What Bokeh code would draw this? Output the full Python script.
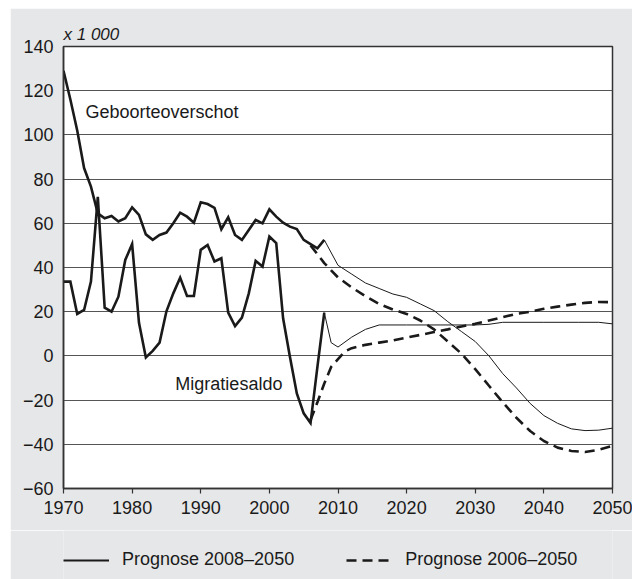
from bokeh.plotting import figure
from bokeh.models import (Range1d, FixedTicker, Label, Legend, LegendItem, Spacer)
from bokeh.layouts import column, row
from bokeh.embed import file_html
from bokeh.resources import INLINE

# ---------------- data (x 1 000) ----------------
hist_years = list(range(1970, 2009))
hist_geboorte = [129, 116, 102, 85, 76.6, 64.5, 62.3, 63.3, 60.8, 62.3,
                 67.2, 63.8, 55, 52.5, 54.7, 55.8, 60, 64.8, 63, 60.3,
                 69.5, 68.7, 67, 57.3, 62.7, 54.7, 52.5, 57, 61.5, 60,
                 66.3, 63, 60.3, 58.5, 57.4, 52.5, 50.6, 48.7, 52.5]
hist_migratie = [33.6, 33.6, 19, 20.8, 33.6, 72, 21.8, 20, 26.8, 43.4,
                 50.6, 15, -0.7, 2.3, 6, 20.2, 28.3, 35.4, 27.1, 27.1,
                 48, 50.2, 42.7, 44.2, 19.6, 13.5, 17.3, 28.3, 43, 40.4,
                 54, 51, 17, -0.5, -17, -26, -30.4, -5, 19.6]

p08_geb_years = [2008, 2010, 2012, 2014, 2016, 2018, 2020, 2022, 2024, 2026,
                 2028, 2030, 2032, 2034, 2036, 2038, 2040, 2042, 2044, 2046,
                 2048, 2050]
p08_geboorte = [52.5, 41, 37, 33, 30.5, 28, 26.5, 23.5, 20.5, 15.5,
                11, 6.5, 0, -8, -14.5, -21.5, -27, -30.5, -33, -33.8,
                -33.6, -32.7]

p08_mig_years = [2008, 2009, 2010, 2012, 2014, 2016, 2020, 2025, 2030, 2032,
                 2034, 2040, 2045, 2048, 2050]
p08_migratie = [19.6, 6, 4, 8.5, 12, 14, 14, 14, 14, 14.3,
                15.2, 15.2, 15.2, 15.2, 14.5]

p06_geb_years = [2006, 2008, 2010, 2012, 2014, 2016, 2018, 2020, 2022, 2024,
                 2026, 2028, 2030, 2032, 2034, 2036, 2038, 2040, 2042, 2044,
                 2046, 2048, 2050]
p06_geboorte = [50, 42, 35.5, 31, 27, 23.5, 21, 19, 16, 12,
                6.5, 1, -6, -13.5, -21, -28, -34, -38.5, -41.5, -43,
                -43.5, -42.5, -40.7]

p06_mig_years = [2006, 2007, 2008, 2009, 2010, 2011, 2012, 2014, 2016, 2018,
                 2020, 2022, 2024, 2026, 2028, 2030, 2032, 2034, 2036, 2038,
                 2040, 2042, 2044, 2046, 2048, 2050]
p06_migratie = [-29, -21, -12.5, -5, -1.5, 2, 3.5, 5, 6, 7,
                8.3, 9.5, 10.8, 12, 13.3, 14.5, 16, 17.5, 19, 20,
                21.3, 22.3, 23.2, 24, 24.4, 24.3]

y_ticks = [-60, -40, -20, 0, 20, 40, 60, 80, 100, 120, 140]
y_tick_labels = ["\u221260", "\u221240", "\u221220", "0", "20", "40", "60",
                 "80", "100", "120", "140"]
x_ticks = [1970, 1980, 1990, 2000, 2010, 2020, 2030, 2040, 2050]

legend_labels = ["Prognose 2008\u20132050", "Prognose 2006\u20132050"]
series_labels = ["Geboorteoverschot", "Migratiesaldo"]
unit_label = "x 1 000"

# ---------------- styling ----------------
FONT = "Liberation Sans"
INK = "#1a1a1a"
BG = "#e6e7e8"

p = figure(width=622, height=522, output_backend="svg", toolbar_location=None,
           x_range=Range1d(1970, 2050), y_range=Range1d(-60, 140),
           min_border_left=53, min_border_right=20, min_border_top=38,
           min_border_bottom=42, title=unit_label)
p.border_fill_color = BG
p.background_fill_color = "white"
p.outline_line_color = "#333333"
p.outline_line_width = 1.5

p.title.text_font = FONT
p.title.text_font_size = "17px"
p.title.text_font_style = "italic"
p.title.text_color = INK
p.title.align = "left"
p.title.standoff = 6
p.title.offset = 0

p.xgrid.visible = False
p.ygrid.ticker = FixedTicker(ticks=y_ticks)
p.ygrid.grid_line_color = "#555555"
p.ygrid.grid_line_width = 1.2

p.yaxis.ticker = FixedTicker(ticks=y_ticks)
p.yaxis.major_label_overrides = {t: l for t, l in zip(y_ticks, y_tick_labels)}
p.yaxis.major_tick_out = 0
p.yaxis.major_tick_in = 0
p.yaxis.minor_tick_out = 0
p.yaxis.minor_tick_in = 0
p.yaxis.major_label_standoff = 10
p.xaxis.ticker = FixedTicker(ticks=x_ticks)
p.xaxis.major_tick_out = 5
p.xaxis.major_tick_in = 0
p.xaxis.minor_tick_out = 0
p.xaxis.minor_tick_in = 0
p.xaxis.major_label_standoff = 7
for ax in (p.xaxis, p.yaxis):
    ax.axis_line_color = "#333333"
    ax.axis_line_width = 1.5
    ax.major_tick_line_color = "#333333"
    ax.major_tick_line_width = 1.2
    ax.major_label_text_font = FONT
    ax.major_label_text_font_size = "18px"
    ax.major_label_text_color = INK

# historical
p.line(hist_years, hist_geboorte, line_color=INK, line_width=2.6, line_join="miter")
p.line(hist_years, hist_migratie, line_color=INK, line_width=2.6, line_join="miter")

# prognose 2006-2050 (dashed)
p.line(p06_geb_years, p06_geboorte, line_color=INK, line_width=2.6, line_dash="10 6")
p.line(p06_mig_years, p06_migratie, line_color=INK, line_width=2.6, line_dash="10 6")

# prognose 2008-2050 (thin)
p.line(p08_geb_years, p08_geboorte, line_color=INK, line_width=1)
p.line(p08_mig_years, p08_migratie, line_color=INK, line_width=1)

p.add_layout(Label(x=1973.2, y=110.4, text=series_labels[0], text_font=FONT,
                   text_font_size="18px", text_color=INK, text_baseline="middle"))
p.add_layout(Label(x=1986.3, y=-12.8, text=series_labels[1], text_font=FONT,
                   text_font_size="18px", text_color=INK, text_baseline="middle"))

# ---------------- legend strip (frame aligned with the chart) ----------------
lg = figure(width=622, height=49, output_backend="svg", toolbar_location=None,
            min_border_left=53, min_border_right=20, min_border_top=0,
            min_border_bottom=0, x_axis_type=None, y_axis_type=None,
            x_range=Range1d(0, 1), y_range=Range1d(0, 1))
lg.border_fill_color = BG
lg.background_fill_color = BG
lg.outline_line_color = None
lg.xgrid.visible = False
lg.ygrid.visible = False
# proxy renderers lie outside the strip's ranges; they only supply legend glyphs
r_solid = lg.line(hist_years[:2], hist_geboorte[:2], line_color=INK, line_width=2.2)
r_dash = lg.line(hist_years[:2], hist_migratie[:2], line_color=INK, line_width=2.6,
                 line_dash="10 6")

legend = Legend(items=[LegendItem(label=legend_labels[0], renderers=[r_solid]),
                       LegendItem(label=legend_labels[1], renderers=[r_dash])],
                orientation="horizontal", location=(0, 9))
legend.background_fill_alpha = 0
legend.border_line_alpha = 0
legend.label_text_font = FONT
legend.label_text_font_size = "18px"
legend.label_text_color = INK
legend.glyph_width = 46
legend.glyph_height = 20
legend.label_standoff = 13
legend.spacing = 52
legend.padding = 0
legend.margin = 0
lg.add_layout(legend, "center")

layout = column(Spacer(height=8), row(Spacer(width=10), column(p, lg)))
open("out.html", "w").write(file_html(layout, INLINE))
